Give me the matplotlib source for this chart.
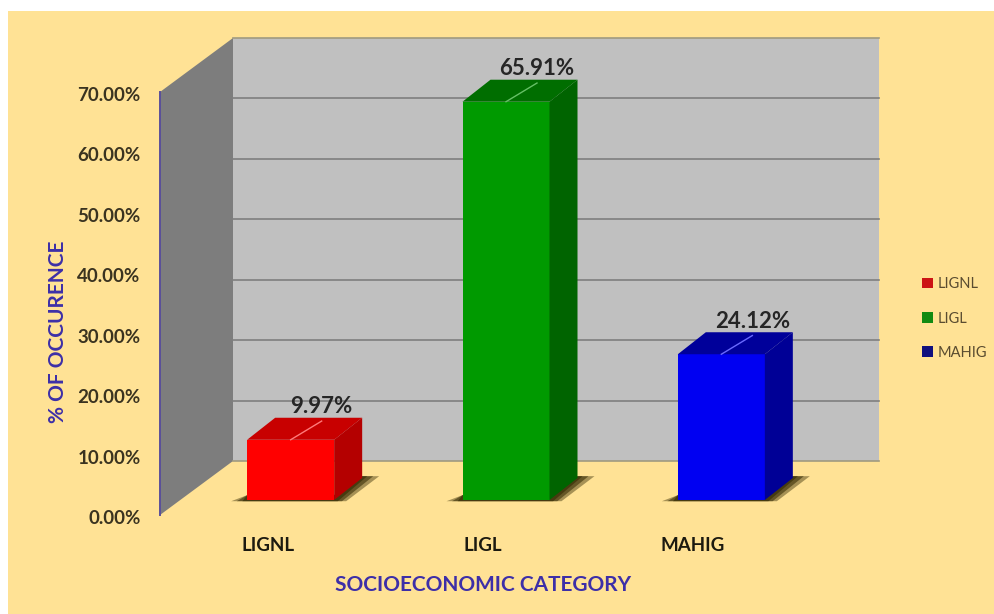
import matplotlib
matplotlib.use("Agg")
import matplotlib.pyplot as plt
from matplotlib.patches import Rectangle
from matplotlib.transforms import ScaledTranslation

# Dados
categorias = ["LIGNL", "LIGL", "MAHIG"]
valores = [9.97, 65.91, 24.12]
rotulos = ["9.97%", "65.91%", "24.12%"]
yticks = [0, 10, 20, 30, 40, 50, 60, 70]
ytick_labels = ["0.00%", "10.00%", "20.00%", "30.00%", "40.00%", "50.00%", "60.00%", "70.00%"]

cor_frente = ["#ff0000", "#009a00", "#0000f2"]
cor_topo = ["#c80000", "#006e00", "#00009a"]
cor_lado = ["#b40000", "#006400", "#000096"]
cor_linha = ["#ff7a7a", "#66c066", "#6a6aff"]
cor_legenda = ["#cc1414", "#128a12", "#10107e"]

FUNDO = "#ffe295"
TEXTO = "#3a3320"
AZUL = "#3d2fa8"

plt.rcParams["font.family"] = ["Lato", "DejaVu Sans"]

W, H = 994, 614
fig = plt.figure(figsize=(W / 100, H / 100), dpi=100, facecolor="white")
fig.add_artist(Rectangle((8 / W, 0), 1 - 8 / W, 1 - 11 / H, transform=fig.transFigure,
                         facecolor=FUNDO, edgecolor="none", zorder=-10))

# plano frontal do gráfico em pixels: x 160-806, y 92-515
ax = fig.add_axes([160 / W, 1 - 515 / H, 646 / W, 423 / H])
ax.set_xlim(-0.5, 2.5)
ax.set_ylim(0, 70)
ax.patch.set_alpha(0)

px_x = 646 / 3       # pixels por categoria
px_y = 423 / 70      # pixels por ponto percentual

# profundidade da parede e das barras, em unidades de dados
parede_dx, parede_dy = 73 / px_x, 54 / px_y
recuo_dx, recuo_dy = 23 / px_x, 15 / px_y
barra_dx, barra_dy = 28 / px_x, 22 / px_y
largura = 87 / px_x

# paredes
x0, x1 = -0.5, 2.5
ax.fill([x0 + parede_dx, x1 + parede_dx, x1 + parede_dx, x0 + parede_dx],
        [parede_dy, parede_dy, 70 + parede_dy, 70 + parede_dy],
        color="#c0c0c0", lw=0, clip_on=False, zorder=1)
ax.fill([x0, x0 + parede_dx, x0 + parede_dx, x0],
        [0, parede_dy, 70 + parede_dy, 70],
        color="#7d7d7d", lw=0, clip_on=False, zorder=2)

# linhas de grade na parede de fundo
for t in yticks:
    cor = "#a09a80" if t in (0, 70) else "#7f7f7f"
    ax.plot([x0 + parede_dx, x1 + parede_dx], [t + parede_dy] * 2, color=cor, lw=1.2,
            clip_on=False, zorder=3)

# barras
for i, (cat, v) in enumerate(zip(categorias, valores)):
    xc = i + recuo_dx
    esq, dir_ = xc - largura / 2, xc + largura / 2
    b0 = recuo_dy

    # sombra no chão
    for k, alfa in zip([1.0, 0.65, 0.3], [0.45, 0.6, 0.7]):
        ax.fill([esq - 16 * k / px_x, dir_ + 12 * k / px_x, dir_ + barra_dx + 17 * k / px_x,
                 dir_ + barra_dx, dir_, esq],
                [b0 - 0.2, b0 - 0.2, b0 + barra_dy + 0.3, b0 + barra_dy + 0.3, b0 + 0.8, b0 + 0.8],
                color="#3a3008", alpha=alfa, lw=0, clip_on=False, zorder=4 + i)

    ax.bar(xc, v, largura, bottom=b0, color=cor_frente[i], label=cat, clip_on=False,
           zorder=6 + i)
    ax.fill([dir_, dir_ + barra_dx, dir_ + barra_dx, dir_],
            [b0, b0 + barra_dy, b0 + v + barra_dy, b0 + v],
            color=cor_lado[i], lw=0, clip_on=False, zorder=6 + i)
    ax.fill([esq, esq + barra_dx, dir_ + barra_dx, dir_],
            [b0 + v, b0 + v + barra_dy, b0 + v + barra_dy, b0 + v],
            color=cor_topo[i], lw=0, clip_on=False, zorder=6 + i)

    # linha de chamada e rótulo do valor
    ax.plot([xc, xc + barra_dx + 3 / px_x], [b0 + v, b0 + v + barra_dy * 0.85],
            color=cor_linha[i], lw=1.0, clip_on=False, zorder=10)
    ax.text(xc + 31 / px_x, b0 + v + barra_dy + 11 / px_y, rotulos[i], ha="center", va="center",
            fontsize=16, fontweight="bold", color="#262626", clip_on=False, zorder=11)

# eixos
for lado in ["top", "right", "bottom"]:
    ax.spines[lado].set_visible(False)
ax.spines["left"].set_color("#5a4f9a")
ax.spines["left"].set_linewidth(1.4)
ax.spines["left"].set_zorder(5)

ax.set_yticks(yticks, ytick_labels, fontsize=13.5, fontweight="bold", color=TEXTO)
ax.set_xticks(range(3), categorias, fontsize=13.5, fontweight="bold", color="#1c1a10")
ax.tick_params(axis="y", length=0, pad=14)
ax.tick_params(axis="x", length=0, pad=16)

# pequenos ajustes de posição dos rótulos dos ticks
for rot in ax.get_yticklabels():
    rot.set_transform(rot.get_transform() + ScaledTranslation(0, -2 / 100, fig.dpi_scale_trans))
ax.get_xticklabels()[2].set_transform(
    ax.get_xticklabels()[2].get_transform() + ScaledTranslation(-6 / 100, 0, fig.dpi_scale_trans))

ax.set_ylabel("% OF OCCURENCE", fontsize=15, fontweight="bold", color=AZUL, va="center")
ax.yaxis.set_label_coords((58 - 160) / 646, (515 - 332) / 423)
ax.set_xlabel("SOCIOECONOMIC CATEGORY", fontsize=15, fontweight="bold", color=AZUL, va="center")
ax.xaxis.set_label_coords(0.5, (515 - 585) / 423)

# legenda
handles, labels = ax.get_legend_handles_labels()
leg = ax.legend(handles, labels, loc="center left", bbox_to_anchor=(922 / W, 1 - 318.5 / H),
                bbox_transform=fig.transFigure, frameon=False, fontsize=10.5,
                handlelength=0.75, handleheight=0.75, handletextpad=0.3,
                labelspacing=1.4, labelcolor="#5a4c30", borderpad=0, borderaxespad=0)
leg.set_zorder(20)
for h, c in zip(leg.legend_handles, cor_legenda):
    h.set_facecolor(c)

fig.savefig("out.png", dpi=100, facecolor=fig.get_facecolor())
